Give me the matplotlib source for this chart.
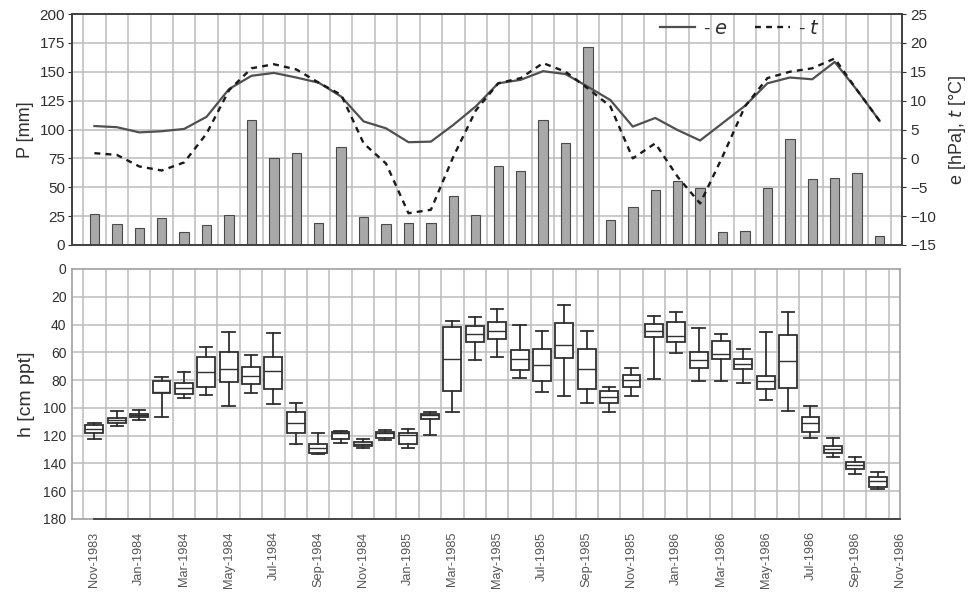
import matplotlib
matplotlib.use("Agg")
import matplotlib.pyplot as plt
from matplotlib.lines import Line2D
import numpy as np

plt.rcParams['font.family'] = ['Liberation Sans', 'DejaVu Sans']

months = ['Nov-1983', 'Dec-1983', 'Jan-1984', 'Feb-1984', 'Mar-1984', 'Apr-1984', 'May-1984',
          'Jun-1984', 'Jul-1984', 'Aug-1984', 'Sep-1984', 'Oct-1984', 'Nov-1984', 'Dec-1984',
          'Jan-1985', 'Feb-1985', 'Mar-1985', 'Apr-1985', 'May-1985', 'Jun-1985', 'Jul-1985',
          'Aug-1985', 'Sep-1985', 'Oct-1985', 'Nov-1985', 'Dec-1985', 'Jan-1986', 'Feb-1986',
          'Mar-1986', 'Apr-1986', 'May-1986', 'Jun-1986', 'Jul-1986', 'Aug-1986', 'Sep-1986',
          'Oct-1986']
tick_labels = ['Nov-1983', 'Jan-1984', 'Mar-1984', 'May-1984', 'Jul-1984', 'Sep-1984',
               'Nov-1984', 'Jan-1985', 'Mar-1985', 'May-1985', 'Jul-1985', 'Sep-1985',
               'Nov-1985', 'Jan-1986', 'Mar-1986', 'May-1986', 'Jul-1986', 'Sep-1986',
               'Nov-1986']

P = [27, 18, 15, 23, 11, 17, 26, 108, 75, 80, 19, 85, 24, 18, 19, 19, 42, 26,
     68, 64, 108, 88, 171, 22, 33, 48, 55, 49, 11, 12, 49, 92, 57, 58, 62, 8]
e = [5.6, 5.4, 4.5, 4.7, 5.1, 7.2, 12.0, 14.3, 14.8, 14.0, 13.1, 10.7, 6.4, 5.2,
     2.8, 2.9, 5.8, 9.0, 13.0, 13.6, 15.1, 14.6, 12.4, 10.1, 5.5, 7.0, 4.9, 3.1,
     6.1, 9.1, 13.0, 14.0, 13.7, 16.7, 11.8, 6.5]
t = [0.9, 0.6, -1.4, -2.1, -0.7, 4.3, 11.8, 15.6, 16.3, 15.4, 13.1, 11.0, 2.6, -0.9,
     -9.5, -8.9, 0.3, 8.3, 13.0, 13.9, 16.5, 15.0, 12.1, 9.0, 0.0, 2.6, -3.2, -7.8,
     0.3, 9.0, 13.9, 15.0, 15.6, 17.3, 11.8, 6.5]

h_whislo = [110.7, 102.3, 101.8, 77.5, 74.1, 55.8, 45.0, 61.8, 46.2, 96.7, 118.4, 116.5,
            122.7, 116.0, 115.0, 102.7, 37.3, 34.2, 28.6, 40.2, 44.5, 25.7, 44.3, 85.2,
            71.5, 33.7, 30.6, 42.6, 46.9, 57.5, 45.5, 30.6, 98.4, 122.0, 135.2, 146.0]
h_q1 = [112.4, 107.0, 104.4, 80.8, 82.3, 63.3, 59.9, 70.3, 63.0, 102.7, 126.1, 117.2,
        124.9, 117.2, 117.9, 104.7, 42.1, 40.7, 37.8, 58.2, 57.7, 39.0, 57.5, 87.8,
        76.3, 39.7, 37.8, 59.7, 51.5, 65.0, 77.0, 47.4, 106.4, 127.3, 138.8, 150.1]
h_med = [115.5, 108.8, 105.4, 88.5, 85.9, 73.9, 71.7, 77.0, 73.4, 110.7, 129.2, 118.0,
         126.0, 118.4, 119.8, 105.4, 65.0, 46.7, 44.5, 64.5, 69.3, 54.6, 71.9, 91.9,
         79.9, 44.3, 47.9, 65.4, 61.5, 68.3, 80.6, 65.9, 111.2, 129.7, 141.2, 152.5]
h_q3 = [118.4, 111.2, 106.4, 89.0, 90.0, 84.7, 81.6, 83.0, 86.4, 117.9, 132.3, 122.5,
        127.5, 121.5, 126.1, 108.0, 87.6, 52.9, 50.3, 72.7, 80.4, 63.8, 86.6, 96.7,
        85.2, 48.6, 52.9, 71.0, 64.7, 71.9, 86.6, 85.4, 117.2, 132.8, 144.1, 156.9]
h_whishi = [122.5, 113.0, 108.8, 106.4, 93.1, 90.7, 98.4, 89.5, 97.5, 126.3, 133.3, 125.6,
            128.7, 123.2, 128.7, 119.6, 102.7, 65.4, 63.0, 78.7, 88.8, 91.2, 96.2, 102.7,
            91.4, 79.4, 60.6, 80.4, 80.4, 82.3, 94.3, 102.0, 122.0, 135.2, 147.3, 158.1]

W, H = 976, 596
fig = plt.figure(figsize=(W / 100, H / 100), dpi=100)

def rect(l, t_, r, b):
    return [l / W, 1 - b / H, (r - l) / W, (b - t_) / H]

grid_c = '#bcbcbc'
txt_c = '#303030'
x = np.arange(len(months))

# ---------- top panel ----------
ax1 = fig.add_axes(rect(72, 14, 902, 245))
ax1.set_xlim(-1, 36)
ax1.set_ylim(0, 200)
ax1.set_yticks(np.arange(0, 201, 25))
for yy in np.arange(25, 200, 25):
    ax1.axhline(yy, color=grid_c, lw=1.1, zorder=0)
for xx in np.arange(-0.5, 36, 1):
    ax1.axvline(xx, color=grid_c, lw=1.1, zorder=0)
ax1.bar(x, P, width=0.42, color='#a9a9a9', edgecolor='#4a4a4a', linewidth=0.8, zorder=2)
ax1.set_xticks([])
ax1.tick_params(axis='y', labelsize=11, colors=txt_c, length=3, width=0.8, pad=2)
ax1.set_ylabel('P [mm]', fontsize=13, color=txt_c, labelpad=4)
for s in ax1.spines.values():
    s.set_color('#404040')
    s.set_linewidth(1.2)

ax2 = ax1.twinx()
ax2.set_ylim(-15, 25)
ax2.set_yticks(np.arange(-15, 26, 5))
ax2.plot(x, e, color='#505050', lw=1.6, zorder=3)
ax2.plot(x, t, color='#1a1a1a', lw=1.7, linestyle=(0, (2.5, 2.2)), zorder=3)
ax2.tick_params(axis='y', labelsize=11, colors=txt_c, length=3, width=0.8, pad=3)
ax2.set_ylabel('e [hPa], $\\it{t}$ [°C]', fontsize=13, color=txt_c, labelpad=8)
for s in ax2.spines.values():
    s.set_color('#404040')
    s.set_linewidth(1.2)

handles = [Line2D([], [], color='#505050', lw=1.6),
           Line2D([], [], color='#1a1a1a', lw=1.7, linestyle=(0, (2.5, 2.2)))]
leg = ax2.legend(handles, ['- $\\it{e}$', '- $\\it{t}$'], loc='upper right',
                 bbox_to_anchor=(820 / W, 1 - 20 / H), bbox_transform=fig.transFigure,
                 ncol=2, frameon=False, fontsize=14, handlelength=1.8,
                 handletextpad=0.4, columnspacing=1.4, labelcolor=txt_c,
                 borderaxespad=0, borderpad=0)

# ---------- bottom panel ----------
ax3 = fig.add_axes(rect(72, 269, 900, 519))
ax3.set_xlim(-1, 36)
ax3.set_ylim(180, 0)
ax3.set_yticks(np.arange(0, 181, 20))
for yy in np.arange(20, 180, 20):
    ax3.axhline(yy, color=grid_c, lw=1.1, zorder=0)
for xx in np.arange(-0.5, 36, 1):
    ax3.axvline(xx, color=grid_c, lw=1.1, zorder=0)

stats = []
for i in range(len(months)):
    stats.append(dict(med=h_med[i], q1=h_q1[i], q3=h_q3[i],
                      whislo=h_whislo[i], whishi=h_whishi[i], fliers=[]))
ax3.bxp(stats, positions=x, widths=0.8, showfliers=False, patch_artist=True,
        boxprops=dict(facecolor='white', edgecolor='#303030', linewidth=1.3),
        medianprops=dict(color='#303030', linewidth=1.0),
        whiskerprops=dict(color='#303030', linewidth=1.3),
        capprops=dict(color='#303030', linewidth=1.3),
        capwidths=0.55, manage_ticks=False, zorder=3)

ax3.set_xticks(np.arange(0, 37, 2))
ax3.set_xticklabels(tick_labels, rotation=90, fontsize=9.2, color='#555555')
ax3.tick_params(axis='x', length=0, pad=9)
ax3.tick_params(axis='y', labelsize=10, colors=txt_c, length=0, pad=4)
ax3.set_ylabel('h [cm ppt]', fontsize=14, color=txt_c, labelpad=6)
for k in ['left', 'top', 'right', 'bottom']:
    ax3.spines[k].set_color('#a0a0a0')
    ax3.spines[k].set_linewidth(1.2)
ax3.plot([0, 36], [180, 180], color='#404040', lw=1.3, clip_on=False, zorder=4)

fig.savefig('out.png', dpi=100)
